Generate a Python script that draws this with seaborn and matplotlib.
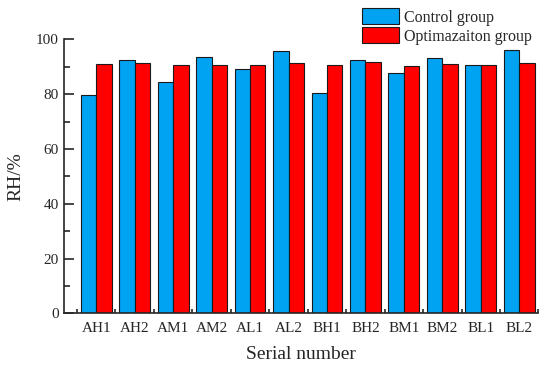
import seaborn as sns
import pandas as pd
import matplotlib.pyplot as plt
from matplotlib.ticker import MultipleLocator, FixedLocator

# dados
serial = ['AH1', 'AH2', 'AM1', 'AM2', 'AL1', 'AL2', 'BH1', 'BH2', 'BM1', 'BM2', 'BL1', 'BL2']
control = [79.8, 92.3, 84.6, 93.7, 89.2, 95.7, 80.5, 92.3, 87.7, 93.1, 90.7, 96.0]
optim = [91.0, 91.2, 90.5, 90.7, 90.5, 91.3, 90.7, 91.6, 90.2, 91.0, 90.5, 91.2]
groups = ['Control group', 'Optimazaiton group']
cores = ['#00A2F2', '#FF0000']

df = pd.DataFrame({
    'Serial number': serial * 2,
    'RH': control + optim,
    'grupo': [groups[0]] * len(serial) + [groups[1]] * len(serial),
})

sns.set_style('ticks')
plt.rcParams['font.family'] = ['Liberation Serif', 'DejaVu Serif']
plt.rcParams['axes.linewidth'] = 1.2

fig = plt.figure(figsize=(5.5, 3.75), dpi=100)
ax = fig.add_axes([0.117, 0.1645, 0.862, 0.7305])

sns.barplot(data=df, x='Serial number', y='RH', hue='grupo', hue_order=groups,
            palette=cores, edgecolor='#1a1a1a', linewidth=0.8, width=0.8,
            saturation=1, ax=ax)

ax.set_ylim(0, 100)
ax.set_xlim(-0.83, 11.5)
ax.yaxis.set_major_locator(MultipleLocator(20))
ax.yaxis.set_minor_locator(MultipleLocator(10))
ax.xaxis.set_minor_locator(FixedLocator([i + 0.5 for i in range(-1, 12)]))
ax.tick_params(axis='y', which='major', direction='in', length=7, width=1.2, labelsize=11, pad=4)
ax.tick_params(axis='y', which='minor', direction='in', length=4, width=1.2)
ax.tick_params(axis='x', which='major', length=0, labelsize=11, pad=6)
ax.tick_params(axis='x', which='minor', direction='in', length=3, width=1.2)
sns.despine(ax=ax)

ax.set_xlabel('Serial number', fontsize=14, labelpad=8)
ax.set_ylabel('RH/%', fontsize=14, labelpad=8)

h, l = ax.get_legend_handles_labels()
ax.legend(h, l, loc='upper left', bbox_to_anchor=(0.658, 0.978), bbox_transform=fig.transFigure,
          frameon=False, fontsize=11.5, handlelength=2.3, handleheight=1.15,
          labelspacing=0.1, handletextpad=0.35, borderpad=0, borderaxespad=0)

plt.savefig('out.png', dpi=100)
